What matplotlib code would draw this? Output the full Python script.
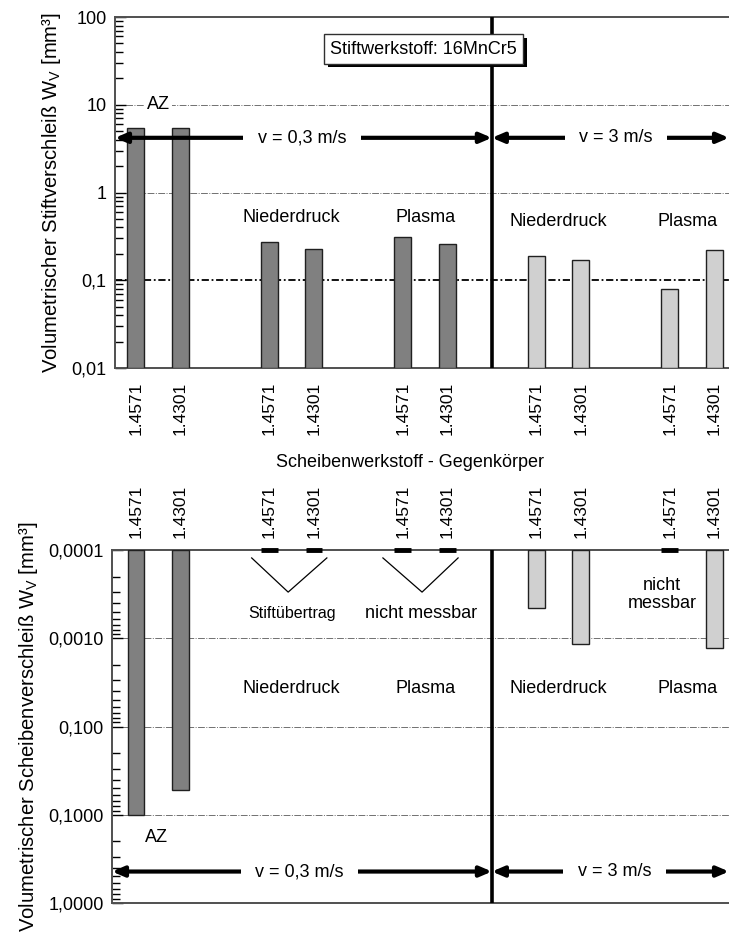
import numpy as np
import matplotlib.pyplot as plt
import matplotlib.patheffects as pe

plt.rcParams['font.family'] = ['Liberation Sans', 'DejaVu Sans']
plt.rcParams['mathtext.default'] = 'regular'

# disc materials and bar slots (pairs per group, gap between groups)
materials = ['1.4571', '1.4301'] * 5
positions = [0, 1, 3, 4, 6, 7, 9, 10, 12, 13]
groups = ['AZ', 'AZ', 'Niederdruck', 'Niederdruck', 'Plasma', 'Plasma',
          'Niederdruck', 'Niederdruck', 'Plasma', 'Plasma']
speed_split = 8  # between 0,3 m/s and 3 m/s groups

# pin wear [mm^3]
pin_wear = [5.5, 5.5, 0.27, 0.225, 0.31, 0.26, 0.19, 0.17, 0.08, 0.22]
# disc wear [mm^3], nan = not measurable / pin material transfer
disc_wear = [0.1, 0.052, np.nan, np.nan, np.nan, np.nan, 4.5e-4, 1.17e-3, np.nan, 1.29e-3]

top_ticks = [0.01, 0.1, 1, 10, 100]
top_ticklabels = ['0,01', '0,1', '1', '10', '100']
bot_ticks = [1e-4, 1e-3, 1e-2, 1e-1, 1]
bot_ticklabels = ['0,0001', '0,0010', '0,100', '0,1000', '1,0000']

dark = '#808080'
light = '#d0d0d0'
colors = [dark] * 6 + [light] * 4
bw = 0.38
fs = 13

fig = plt.figure(figsize=(7.29, 9.35), dpi=100)
W, H = 729, 935
ax1 = fig.add_axes([115 / W, 1 - 368 / H, 614 / W, 351 / H])
ax2 = fig.add_axes([112 / W, 1 - 903 / H, 617 / W, 353 / H])


def style_axis(ax, ticks, ticklabels):
    ax.set_yscale('log')
    ax.set_yticks(ticks)
    ax.set_yticklabels(ticklabels, fontsize=fs)
    ax.tick_params(axis='y', which='major', direction='in', length=8, width=1, pad=6)
    ax.tick_params(axis='y', which='minor', direction='in', length=6, width=1)
    ax.spines['right'].set_visible(False)
    for s in ['top', 'left', 'bottom']:
        ax.spines[s].set_color('#505050')
        ax.spines[s].set_linewidth(1.4)
    ax.set_xticks(positions)
    ax.set_xticklabels(materials, rotation=90, fontsize=12.5)


def arrows(ax, y, x0, x1, xm, label):
    ax.annotate('', xy=(x0, y), xytext=(x1, y),
                arrowprops=dict(arrowstyle='<|-|>,head_length=0.7,head_width=0.3',
                                lw=3, color='black', shrinkA=0, shrinkB=0), zorder=4)
    ax.text(xm, y, label, ha='center', va='center', fontsize=fs, zorder=5,
            bbox=dict(boxstyle='square,pad=0.8', fc='white', ec='none'))


# ---- top: pin wear ----
style_axis(ax1, top_ticks, top_ticklabels)
xl1 = (-0.47, 13.33)
ax1.set_xlim(*xl1)
ax1.set_ylim(0.01, 100)
ax1.tick_params(axis='x', length=0, pad=10)
for yv in [1, 10]:
    ax1.axhline(yv, color='#707070', lw=0.7, ls=(0, (7, 1.5, 1, 1.5)), zorder=1)
ax1.axhline(0.1, color='black', lw=1.3, ls=(0, (4, 1.5, 1, 1.5)), zorder=1)
ax1.bar(positions, np.array(pin_wear) - 0.01, bottom=0.01, width=bw,
        color=colors, edgecolor='#202020', lw=1, zorder=3)
ax1.axvline(speed_split, color='black', lw=2.6, zorder=4)
ax1.text(0.5, 10, 'AZ', ha='center', va='center', fontsize=fs, zorder=5,
         bbox=dict(boxstyle='square,pad=0.1', fc='white', ec='none'))
for x, y, g in [(3.5, 0.52, 'Niederdruck'), (6.5, 0.52, 'Plasma'),
                (9.5, 0.47, 'Niederdruck'), (12.4, 0.47, 'Plasma')]:
    ax1.text(x, y, g, ha='center', va='center', fontsize=fs)
arrows(ax1, 4.2, xl1[0], speed_split, 3.73, 'v = 0,3 m/s')
arrows(ax1, 4.2, speed_split, xl1[1], 10.79, 'v = 3 m/s')

# material box with drop shadow
box = ax1.text(6.47, 43, 'Stiftwerkstoff: 16MnCr5', ha='center', va='center',
               fontsize=fs, zorder=7,
               bbox=dict(boxstyle='square,pad=0.35', fc='white', ec='#303030', lw=1))
box.get_bbox_patch().set_path_effects(
    [pe.withSimplePatchShadow(offset=(2.5, -2.5), shadow_rgbFace='black', alpha=1)])
ax1.set_ylabel('Volumetrischer Stiftverschleiß W$_V$ [mm³]', fontsize=14.6, labelpad=6)

fig.text(410 / W, 1 - 463 / H, 'Scheibenwerkstoff - Gegenkörper',
         ha='center', va='center', fontsize=fs)

# ---- bottom: disc wear (hanging bars, inverted log axis) ----
style_axis(ax2, bot_ticks, bot_ticklabels)
xl2 = (-0.54, 13.33)
ax2.set_xlim(*xl2)
ax2.set_ylim(1, 1e-4)
ax2.xaxis.tick_top()
ax2.tick_params(axis='x', length=0, pad=9)
for yv in [1e-3, 1e-2, 1e-1]:
    ax2.axhline(yv, color='#707070', lw=0.7, ls=(0, (7, 1.5, 1, 1.5)), zorder=1)
disc = np.array(disc_wear)
ok = ~np.isnan(disc)
ax2.bar(np.array(positions)[ok], disc[ok] - 1e-4, bottom=1e-4, width=bw,
        color=np.array(colors)[ok], edgecolor='#202020', lw=1, zorder=3)
for x in np.array(positions)[~ok]:
    ax2.plot([x - bw / 2, x + bw / 2], [1e-4, 1e-4], color='black', lw=3.5,
             solid_capstyle='butt', zorder=4, clip_on=False)
ax2.axvline(speed_split, color='black', lw=2.6, zorder=4)

# V-shaped pointers to the notes
ax2.plot([2.6, 3.42, 4.29], [1.23e-4, 3.0e-4, 1.23e-4], color='black', lw=0.9)
ax2.plot([5.55, 6.43, 7.24], [1.23e-4, 3.0e-4, 1.23e-4], color='black', lw=0.9)
ax2.text(3.5, 5.2e-4, 'Stiftübertrag', ha='center', va='center', fontsize=11.5)
ax2.text(6.4, 5.2e-4, 'nicht messbar', ha='center', va='center', fontsize=fs)
ax2.text(11.82, 3.2e-4, 'nicht\nmessbar', ha='center', va='center', fontsize=fs,
         linespacing=1.1)
for x, g in [(3.5, 'Niederdruck'), (6.5, 'Plasma'), (9.5, 'Niederdruck'), (12.4, 'Plasma')]:
    ax2.text(x, 3.7e-3, g, ha='center', va='center', fontsize=fs)
ax2.text(0.47, 0.18, 'AZ', ha='center', va='center', fontsize=fs)
arrows(ax2, 0.44, xl2[0], speed_split, 3.68, 'v = 0,3 m/s')
arrows(ax2, 0.44, speed_split, xl2[1], 10.76, 'v = 3 m/s')
ax2.set_ylabel('Volumetrischer Scheibenverschleiß W$_V$ [mm³]', fontsize=14.6, labelpad=6)

fig.savefig('out.png', dpi=100)
